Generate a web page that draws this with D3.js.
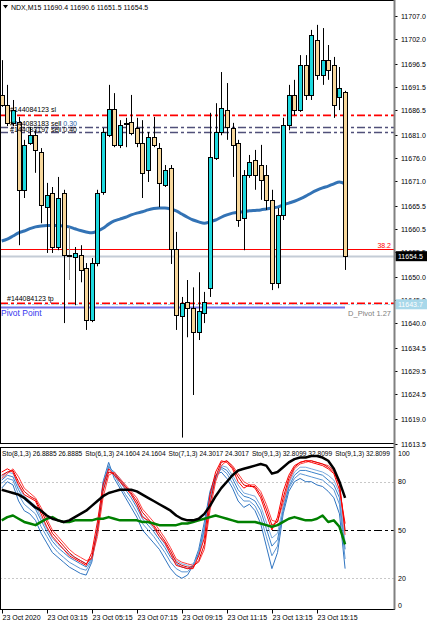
<!DOCTYPE html>
<meta charset="utf-8">
<style>
  body { margin: 0; background: #fff; }
  svg text { font-family: "Liberation Sans", Arial, sans-serif; font-size: 7px; }
</style>
<body>
<svg id="chart" width="427" height="625"></svg>
<script src="https://d3js.org/d3.v7.min.js"></script>
<script>

  // ---- data (NDX M15, 23 Oct 2020) ----
  const barOpen = [11689.7,11687.5,11683.6,11683.8,11669.0,11679.2,11680.9,11677.2,11665.2,11668.3,
    11656.5,11668.3,11654.7,11654.3,11654.7,11651.9,11640.6,11653.0,11668.5,11680.9,
    11686.6,11678.8,11683.6,11683.8,11682.5,11679.2,11673.3,11680.5,11678.1,11670.0,
    11673.7,11656.1,11641.4,11644.5,11643.2,11637.9,11642.1,11647.7,11675.9,11681.6,
    11686.4,11682.5,11679.2,11662.8,11672.2,11675.5,11674.4,11672.2,11666.8,11648.6,
    11663.5,11683.1,11689.7,11686.4,11696.2,11689.7,11701.7,11694.1,11697.3,11696.2,
    11689.3,11690.4];
  const barHigh = [11697.3,11691.9,11688.6,11684.9,11679.9,11682.7,11682.0,11678.1,11670.5,11669.6,
    11671.8,11669.0,11660.9,11656.5,11656.9,11653.0,11654.1,11669.0,11682.5,11691.9,
    11690.1,11684.2,11684.7,11689.7,11684.7,11684.2,11681.6,11684.9,11679.2,11674.4,
    11674.4,11659.8,11645.6,11649.3,11647.7,11651.0,11646.7,11685.8,11687.9,11694.7,
    11692.3,11683.6,11679.9,11673.3,11676.6,11677.7,11678.8,11674.4,11669.0,11665.0,
    11684.7,11691.9,11693.0,11698.4,11698.4,11703.9,11705.0,11704.3,11700.6,11698.0,
    11695.8,11690.6];
  const barLow = [11687.1,11682.9,11682.9,11656.9,11667.2,11678.8,11672.7,11661.7,11655.2,11655.2,
    11655.8,11639.9,11649.3,11643.8,11648.8,11638.4,11640.1,11652.3,11667.9,11680.5,
    11678.3,11678.1,11678.3,11680.9,11678.3,11667.2,11670.7,11678.3,11665.2,11669.6,
    11652.8,11638.4,11614.9,11636.8,11624.2,11636.2,11639.9,11645.6,11675.5,11680.9,
    11679.9,11671.8,11660.9,11655.8,11671.6,11669.0,11666.8,11664.6,11647.1,11647.5,
    11662.4,11682.0,11685.3,11686.0,11688.6,11688.6,11693.0,11691.9,11693.0,11684.7,
    11686.4,11651.5];
  const barClose = [11687.5,11683.6,11686.4,11669.0,11678.8,11680.9,11677.7,11665.7,11667.9,11656.5,
    11667.2,11654.7,11654.7,11655.2,11651.5,11640.6,11653.0,11668.3,11681.6,11686.6,
    11678.8,11683.1,11683.5,11681.4,11679.2,11672.7,11680.5,11678.8,11670.5,11673.3,
    11656.1,11641.6,11644.3,11643.2,11637.9,11642.5,11644.5,11676.2,11681.6,11686.9,
    11682.7,11678.8,11662.4,11672.2,11675.1,11672.2,11671.1,11666.8,11648.6,11663.5,
    11683.1,11689.7,11686.4,11696.2,11689.7,11702.8,11694.1,11697.3,11695.1,11687.5,
    11691.2,11654.5];
  const maValues = [11657.8,11658.2,11658.9,11659.6,11660.0,11660.5,11660.9,11661.1,11661.2,11661.2,
    11661.2,11661.1,11660.9,11660.5,11660.1,11659.8,11659.6,11660.0,11660.6,11661.5,
    11662.2,11662.6,11663.0,11663.5,11663.9,11664.2,11664.6,11664.9,11665.0,11665.0,
    11664.8,11664.4,11663.7,11663.0,11662.4,11662.0,11661.7,11662.0,11662.4,11663.0,
    11663.5,11663.9,11664.1,11664.2,11664.4,11664.5,11664.6,11664.8,11665.0,11665.2,
    11665.7,11666.1,11666.5,11667.0,11667.6,11668.3,11668.9,11669.4,11669.8,11670.3,
    11670.7,11670.3];

  const priceTicks = [11707.0,11702.0,11696.5,11691.5,11686.5,11681.0,11676.0,11671.0,11665.5,
    11660.5,11655.5,11650.0,11645.0,11640.0,11634.5,11629.5,11624.5,11619.0,11613.5];

  const slPrice = 11685.3;
  const sellPrices = [11682.8, 11681.7];
  const sellTickets = ['#144083183 sell', '#144083197 sell'];
  const sellLots = ['0.30', '0.40'];
  const fibPrice = 11656.1;
  const bidPrice = 11654.5;
  const tpPrice = 11644.3;
  const pivotPrice = 11643.7;

  const timeTickBars = [0, 8, 16, 24, 32, 40, 48, 56];
  const timeTickLabels = ['23 Oct 2020','23 Oct 03:15','23 Oct 05:15','23 Oct 07:15',
    '23 Oct 09:15','23 Oct 11:15','23 Oct 13:15','23 Oct 15:15'];

  // stochastic ribbon
  const stoRed1 = [86,88,86,78,72,70,68,60,52,46,42,38,34,32,30,28,36,55,78,88,84,80,76,72,66,58,56,52,46,42,35,28,27,26,26,34,45,72,86,93,92,88,80,76,78,76,70,60,50,58,74,84,90,92,93,92,91,90,88,85,75,54];
  const stoRed2 = [84,86,87,80,74,71,69,62,55,48,44,40,36,33,31,29,33,50,74,86,85,81,77,73,68,61,57,53,48,43,37,30,28,27,27,31,41,66,83,92,93,89,83,78,77,77,72,63,53,55,70,82,89,92,93,93,92,91,89,86,78,50];
  const stoRed3 = [82,85,88,83,76,73,70,64,57,50,46,42,38,35,33,31,32,46,70,84,86,82,78,74,70,63,59,55,50,45,39,32,30,29,28,30,38,62,80,90,93,90,85,80,78,78,74,66,56,55,67,80,88,91,92,93,92,91,90,87,80,47];
  const stoBlue1 = [76,80,78,68,62,60,56,48,42,36,33,30,27,25,23,22,30,50,80,92,82,76,70,64,58,50,46,42,38,32,26,22,20,22,28,38,55,74,84,86,82,76,68,64,66,62,54,40,26,36,60,74,80,82,80,80,78,77,74,70,60,26];
  const stoBlue2 = [79,82,81,72,66,63,60,52,46,40,36,33,30,28,26,25,31,51,79,90,84,78,72,67,61,54,50,46,41,36,30,26,24,24,28,36,52,72,83,88,85,79,72,68,68,65,58,46,34,40,62,76,82,85,84,83,82,81,78,75,66,32];
  const stoBlue3 = [81,84,83,75,69,66,63,56,49,43,39,36,33,31,29,27,32,50,77,89,86,80,75,70,64,57,53,49,44,39,33,29,27,26,28,35,50,70,82,89,87,82,75,71,70,68,62,51,40,44,63,77,84,87,87,86,85,84,81,78,70,38];
  const stoBlue4 = [83,86,85,77,71,68,65,58,51,45,41,38,35,33,31,29,32,49,75,88,86,82,77,72,66,59,55,51,46,41,35,31,29,28,29,34,48,68,81,90,89,84,78,73,72,71,65,55,45,48,65,79,86,89,89,88,87,86,84,81,73,42];
  const stoSlow = [75,74,73,72,70,67,64,62,59,57,56,55,56,58,60,62,65,68,71,73,74,75,75,75,74,72,70,68,66,64,62,59,57,56,56,57,60,65,71,76,80,84,87,88,89,90,91,90,85,86,89,92,94,95,95,96,96,95,93,88,80,70];
  const stoGreen = [56,58,59,57,55,54,53,55,57,58,56,55,55,56,56,56,56,57,57,58,57,56,56,56,56,55,55,54,53,53,53,53,54,54,55,56,57,58,59,58,57,56,55,55,55,55,54,53,52,53,55,57,58,57,56,56,57,59,55,56,52,41];

  const stoNames = ['Sto(8,1,3)', 'Sto(6,1,3)', 'Sto(7,1,3)', 'Sto(9,1,3)', 'Sto(9,1,3)'];
  const stoReadings = ['26.8885 26.8885', '24.1604 24.1604', '24.3017 24.3017', '32.8099 32.8099', '32.8099'];
  const stoLevels = [80, 50, 20];
  const stoAxisLabels = [100, 80, 50, 20, 0];

  // ---- layout ----
  const svg = d3.select('#chart');
  const axisX = 394.5;
  const mainTop = 0.5, mainBottom = 443.5;
  const subTop = 447.5, subBottom = 609.5;

  const x = d3.scaleLinear().domain([0, barOpen.length - 1]).range([1.7, 345.1]);
  const y = d3.scaleLinear().domain([11613.5, 11707.0]).range([444.0, 15.7]);
  const ys = d3.scaleLinear().domain([0, 100]).range([610.5, 449.5]);

  const defs = svg.append('defs');
  defs.append('clipPath').attr('id', 'clipMain')
    .append('rect').attr('x', 0).attr('y', 1).attr('width', axisX).attr('height', mainBottom - 1);
  defs.append('clipPath').attr('id', 'clipSub')
    .append('rect').attr('x', 0).attr('y', subTop + 0.5).attr('width', axisX).attr('height', subBottom - subTop - 0.5);

  svg.append('rect').attr('width', 427).attr('height', 625).attr('fill', '#fff');

  const main = svg.append('g').attr('clip-path', 'url(#clipMain)');
  const DASHDOT = '8,3,3,3';

  // moving average
  main.append('path')
    .datum(maValues)
    .attr('fill', 'none')
    .attr('stroke', '#3373b5')
    .attr('stroke-width', 3)
    .attr('d', d3.line().x((d, i) => x(i)).y(d => y(d)).curve(d3.curveMonotoneX));

  function hline(g, price, color, width, dash, x2) {
    const yy = Math.round(y(price)) + 0.5;
    g.append('line')
      .attr('x1', 0).attr('x2', x2 || axisX)
      .attr('y1', yy).attr('y2', yy)
      .attr('stroke', color).attr('stroke-width', width)
      .attr('stroke-dasharray', dash || null);
    return yy;
  }

  // order lines
  hline(main, slPrice + 0.3, '#ffaaaa', 1, DASHDOT);
  const ySl = hline(main, slPrice, '#ff0000', 1.5, DASHDOT);
  sellPrices.forEach(p => hline(main, p, '#50507a', 1.3, DASHDOT));
  const yFib = hline(main, fibPrice, '#ff0000', 1);
  hline(main, bidPrice, '#c4ccd6', 2);
  hline(main, tpPrice + 0.3, '#ffaaaa', 1, DASHDOT);
  const yTp = hline(main, tpPrice, '#ff0000', 1.5, DASHDOT);
  hline(main, pivotPrice + 0.35, '#9fd3ea', 1, '2,2');
  const yPivot = hline(main, pivotPrice - 0.35, '#7272e8', 2, null, 345);

  // candles
  const candles = main.selectAll('g.candle')
    .data(barOpen.map((o, i) => ({ i, o, h: barHigh[i], l: barLow[i], c: barClose[i] })))
    .enter().append('g').attr('class', 'candle');

  candles.append('line')
    .attr('x1', d => Math.round(x(d.i)) + 0.5)
    .attr('x2', d => Math.round(x(d.i)) + 0.5)
    .attr('y1', d => y(d.h))
    .attr('y2', d => y(d.l))
    .attr('stroke', d => d.c === d.o ? '#888' : '#000')
    .attr('stroke-width', 1);

  candles.append('rect')
    .attr('x', d => Math.round(x(d.i)) - 1.5)
    .attr('y', d => Math.round(y(Math.max(d.o, d.c))) + 0.5)
    .attr('width', 4)
    .attr('height', d => Math.max(1, Math.round(Math.abs(y(d.o) - y(d.c)))))
    .attr('fill', d => d.c >= d.o ? '#1dd9df' : '#f7d79b')
    .attr('stroke', '#000')
    .attr('stroke-width', 1);

  // object labels
  main.append('text').attr('x', 10).attr('y', ySl - 3.5).text('#144084123 sl');
  sellPrices.forEach((p, k) => {
    const t = main.append('text').attr('x', 10).attr('y', Math.round(y(p)) - 1 + k * 0.5);
    t.append('tspan').text(sellTickets[k] + ' ');
    t.append('tspan').attr('fill', k === 0 ? '#1f5fa8' : '#000').text(sellLots[k]);
  });
  main.append('text').attr('x', 7).attr('y', yTp - 3).text('#144084123 tp');
  main.append('text').attr('x', 1).attr('y', yPivot + 8.5)
    .attr('fill', '#3535ee').style('font-size', '8.5px').text('Pivot Point');
  main.append('text').attr('x', 391).attr('y', yPivot + 8).attr('text-anchor', 'end')
    .attr('fill', '#808080').style('font-size', '7.5px').text('D_Pivot 1.27');
  main.append('text').attr('x', 391).attr('y', yFib - 2).attr('text-anchor', 'end')
    .attr('fill', '#ff0000').text('38.2');

  // header
  svg.append('path').attr('d', 'M3,5 L8,5 L5.5,8.5 Z').attr('fill', '#000');
  svg.append('text').attr('x', 11).attr('y', 10)
    .text('NDX,M15  11690.4 11690.6 11651.5 11654.5');

  // price axis
  const pAxis = svg.append('g');
  priceTicks.forEach(p => {
    const yy = Math.round(y(p)) + 0.5;
    pAxis.append('line').attr('x1', axisX).attr('x2', axisX + 3).attr('y1', yy).attr('y2', yy)
      .attr('stroke', '#000');
    pAxis.append('text').attr('x', 401).attr('y', yy + 2.5).text(p.toFixed(1));
  });

  function priceBox(price, label, bg, fg) {
    const yy = y(price);
    pAxis.append('rect').attr('x', axisX + 1).attr('y', yy - 5).attr('width', 32).attr('height', 10)
      .attr('fill', bg);
    pAxis.append('text').attr('x', 398).attr('y', yy + 2.5).attr('fill', fg).text(label);
  }
  priceBox(pivotPrice + 0.3, pivotPrice.toFixed(1), '#a8d8ea', '#fff');
  priceBox(bidPrice, bidPrice.toFixed(1), '#000', '#fff');

  // ---- sub window ----
  const sub = svg.append('g').attr('clip-path', 'url(#clipSub)');

  stoLevels.forEach(v => {
    const yy = Math.round(ys(v)) + 0.5;
    sub.append('line').attr('x1', 0).attr('x2', axisX).attr('y1', yy).attr('y2', yy)
      .attr('stroke', v === 50 ? '#000' : '#c8c8c8')
      .attr('stroke-dasharray', v === 50 ? DASHDOT : '2,2');
  });

  const stoLine = d3.line().x((d, i) => x(i)).y(d => ys(d));
  const ribbon = [
    [stoBlue1, '#2f74c0', 1], [stoBlue2, '#5b95d3', 1], [stoBlue3, '#3a80c8', 1], [stoBlue4, '#7aa9dc', 1],
    [stoRed3, '#ff4040', 1], [stoRed2, '#e00000', 1], [stoRed1, '#ff0000', 1],
    [stoGreen, '#008000', 2.5], [stoSlow, '#000', 2.5]
  ];
  ribbon.forEach(([vals, color, w]) => {
    sub.append('path').datum(vals)
      .attr('fill', 'none').attr('stroke', color).attr('stroke-width', w)
      .attr('stroke-linejoin', 'round')
      .attr('d', stoLine);
  });

  // indicator captions
  let cx = 2;
  stoNames.forEach((n, k) => {
    const t = svg.append('text').attr('x', cx).attr('y', 456)
      .style('font-size', '6.6px').text(n + ' ' + stoReadings[k]);
    cx += t.node().getComputedTextLength() + 3;
  });

  stoAxisLabels.forEach(v => {
    let yy = ys(v) + 2.5;
    if (v === 100) yy = 456;
    if (v === 0) yy = 608;
    svg.append('text').attr('x', 398).attr('y', yy).text(v);
  });

  // frames
  const frame = svg.append('g').attr('fill', 'none');
  frame.append('rect').attr('x', 0.5).attr('y', mainTop).attr('width', axisX - 0.5).attr('height', mainBottom - mainTop)
    .attr('stroke', '#000');
  frame.append('rect').attr('x', 0.5).attr('y', subTop).attr('width', axisX - 0.5).attr('height', subBottom - subTop)
    .attr('stroke', '#000');
  frame.append('line').attr('x1', axisX).attr('x2', axisX).attr('y1', 0).attr('y2', subBottom)
    .attr('stroke', '#808080').attr('stroke-width', 2);

  // time axis
  timeTickBars.forEach((b, k) => {
    const xx = Math.round(x(b)) + 0.5;
    svg.append('line').attr('x1', xx).attr('x2', xx).attr('y1', subBottom).attr('y2', subBottom + 4)
      .attr('stroke', '#000');
    svg.append('text').attr('x', xx).attr('y', 620).text(timeTickLabels[k]);
  });

</script>
</body>
